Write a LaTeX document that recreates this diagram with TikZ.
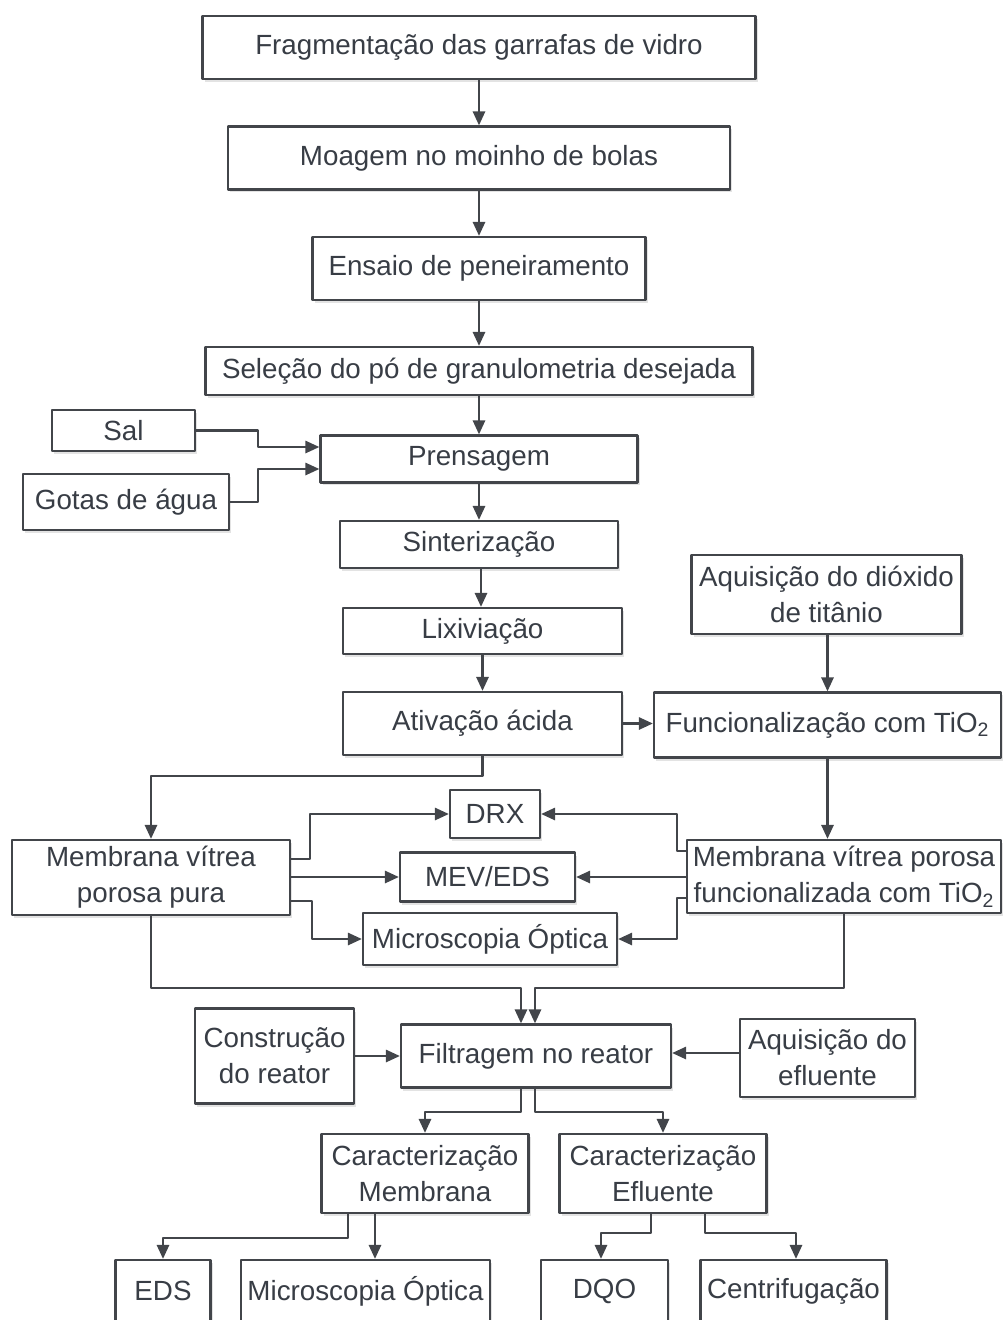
\documentclass[tikz,border=0pt]{standalone}
\usepackage{fontspec}
\setmainfont{Liberation Sans}
\usetikzlibrary{arrows.meta,shadows}
\definecolor{linegray}{rgb}{0.26,0.27,0.29}
\definecolor{textgray}{rgb}{0.22,0.24,0.27}

\begin{document}
\begin{tikzpicture}[line cap=round,line join=round,x=0.02cm,y=-0.02cm,
	box/.style={draw=linegray,line width=1.3pt,fill=white,text=textgray,align=center,inner sep=1pt,
		font=\fontsize{15.8}{20.5}\selectfont,
		drop shadow={shadow xshift=1.3pt,shadow yshift=-1.7pt,opacity=0.22}},
	sz/.style 2 args={minimum width=#1*0.02cm,minimum height=#2*0.02cm},
	arr/.style={-{Triangle[length=8pt,width=7pt]},line width=1.25pt,color=linegray}]
	\useasboundingbox (0,0) rectangle (1003,1320);
	\clip (0,0) rectangle (1003,1320);
	% 1-10
	\node[box,sz={553}{63}] (frag) at (479,47.5) {Fragmentação das garrafas de vidro};
	\node[box,sz={502}{63}] (moag) at (479,158) {Moagem no moinho de bolas};
	\node[box,sz={333}{63}] (ensa) at (479,268.5) {Ensaio de peneiramento};
	\node[box,sz={547}{48}] (sele) at (479,371) {Seleção do pó de granulometria desejada};
	\node[box,sz={143}{41}] (sal) at (123.5,430.5) {Sal};
	\node[box,sz={206}{56}] (gota) at (126,502) {Gotas de água};
	\node[box,sz={317}{47}] (pren) at (479,459) {Prensagem};
	\node[box,sz={278}{47}] (sint) at (479,544.5) {Sinterização};
	\node[box,sz={279}{46}] (lixi) at (482.5,631) {Lixiviação};
	\node[box,sz={279}{63}] (ativ) at (482.5,723.5) {Ativação ácida};
	% 11-17
	\node[box,sz={270}{79}] (aqti) at (826.5,594.5) {Aquisição do dióxido\\de titânio};
	\node[box,sz={347}{65}] (func) at (827.5,725) {Funcionalização com TiO\textsubscript{2}};
	\node[box,sz={278}{75}] (mpur) at (151,877.5) {Membrana vítrea\\porosa pura};
	\node[box,sz={90}{48}] (drx) at (495,814) {DRX};
	\node[box,sz={175}{49}] (mev) at (487.5,877) {MEV/EDS};
	\node[box,sz={254}{52}] (micr) at (490,939) {Microscopia Óptica};
	\node[box,sz={314}{73}] (mfun) at (844,876.5) {Membrana vítrea porosa\\funcionalizada com TiO\textsubscript{2}};
	% 18-26
	\node[box,sz={159}{95}] (cons) at (274.5,1056) {Construção\\do reator};
	\node[box,sz={270}{63}] (filt) at (536,1056) {Filtragem no reator};
	\node[box,sz={175}{78}] (aqef) at (827.5,1058) {Aquisição do\\efluente};
	\node[box,sz={207}{79}] (cmem) at (425,1173.5) {Caracterização\\Membrana};
	\node[box,sz={207}{79}] (cefl) at (663,1173.5) {Caracterização\\Efluente};
	\node[box,sz={95}{62}] (eds) at (163,1291) {EDS};
	\node[box,sz={249}{62}] (mic2) at (365.5,1291) {Microscopia Óptica};
	\node[box,sz={127}{62}] (dqo) at (604.5,1291) {DQO};
	\node[box,sz={186}{62}] (cent) at (793.5,1291) {Centrifugação};

	% coluna principal
	\draw[arr] (frag) -- (moag);
	\draw[arr] (moag) -- (ensa);
	\draw[arr] (ensa) -- (sele);
	\draw[arr] (sele) -- (pren);
	\draw[arr] (pren) -- (sint);
	\draw[arr] (sint.south -| 481,0) -- (lixi.north -| 481,0);
	\draw[arr] (lixi) -- (ativ);
	\draw[arr] (sal.east) -| (258,447) -- (pren.west |- 258,447);
	\draw[arr] (gota.east) -| (258,469) -- (pren.west |- 258,469);
	\draw[arr] (ativ.east) -- (func.west |- ativ.east);
	\draw[arr] (aqti.south -| func) -- (func.north);
	\draw[arr] (ativ.south) |- (mpur.north |- 0,776) -- (mpur.north);
	\draw[arr] (func.south) -- (func.south |- mfun.north);

	% ensaios das membranas
	\draw[arr] (mpur.east |- 0,859) -| (310,814) -- (drx.west);
	\draw[arr] (mpur.east |- mev) -- (mev.west);
	\draw[arr] (mpur.east |- 0,901) -| (312,939) -- (micr.west);
	\draw[arr] (mfun.west |- 0,851) -| (677,814) -- (drx.east);
	\draw[arr] (mfun.west |- mev) -- (mev.east);
	\draw[arr] (mfun.west |- 0,898) -| (677,939) -- (micr.east);

	% reator
	\draw[arr] (mpur.south) |- (521,988) -- (filt.north -| 521,0);
	\draw[arr] (mfun.south) |- (535,988) -- (filt.north -| 535,0);
	\draw[arr] (cons) -- (filt);
	\draw[arr] (aqef.west |- 0,1053) -- (filt.east |- 0,1053);
	\draw[arr] (filt.south -| 521,0) -- (521,1112) -| (cmem.north);
	\draw[arr] (filt.south -| 535,0) -- (535,1112) -| (cefl.north);
	\draw[arr] (cmem.south -| 348,0) -- (348,1238) -| (eds.north);
	\draw[arr] (cmem.south -| 375,0) -- (mic2.north -| 375,0);
	\draw[arr] (cefl.south -| 651,0) -- (651,1233) -| (dqo.north -| 601,0);
	\draw[arr] (cefl.south -| 705,0) -- (705,1233) -| (cent.north -| 796,0);

\end{tikzpicture}
\end{document}
